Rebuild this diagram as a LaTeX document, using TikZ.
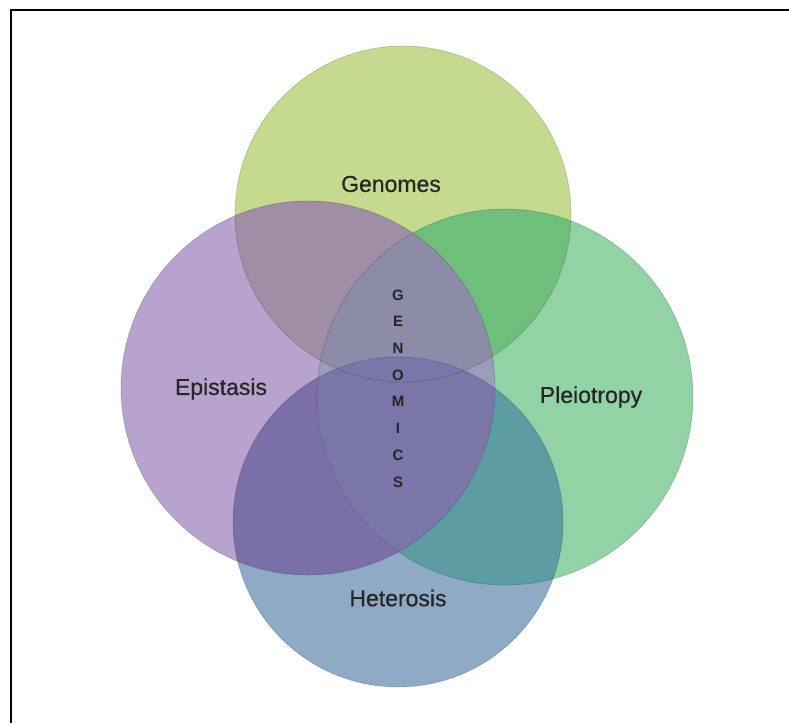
\documentclass[tikz,border=0pt]{standalone}
\usepackage{fontspec}
\setmainfont{Liberation Sans}
\newfontfamily\lblfont[FakeBold=0.6]{Liberation Sans}
\begin{document}
\begin{tikzpicture}[x=1pt,y=-1pt,
  rim/.style={draw=black,draw opacity=0.14,line width=0.9pt},
  setlabel/.style={font=\lblfont\fontsize{23}{25}\selectfont,text=black!85},
  letter/.style={font=\bfseries\fontsize{15}{16}\selectfont,text=black!85,inner sep=0pt}]
\definecolor{cG}{HTML}{C6DA8F}
\definecolor{cE}{HTML}{B8A3CE}
\definecolor{cP}{HTML}{92D3A6}
\definecolor{cH}{HTML}{8EAAC4}
\definecolor{cGE}{HTML}{A08DA6}
\definecolor{cGP}{HTML}{6EBF7C}
\definecolor{cEP}{HTML}{9A9CBA}
\definecolor{cEH}{HTML}{7B6FA8}
\definecolor{cPH}{HTML}{5C9DA3}
\definecolor{cGEP}{HTML}{8C8BA8}
\definecolor{cEPH}{HTML}{7A76A8}
\useasboundingbox (0,0) rectangle (789,723);
\fill[white] (0,0) rectangle (789,723);

% circle centres
\coordinate (G) at (403,214);
\coordinate (E) at (308,388);
\coordinate (P) at (505,397);
\coordinate (H) at (398,522);
\def\rG{168}\def\rE{187}\def\rP{188}\def\rH{165}

% single sets
\fill[cG] (G) circle[radius=\rG];
\fill[cE] (E) circle[radius=\rE];
\fill[cP] (P) circle[radius=\rP];
\fill[cH] (H) circle[radius=\rH];

% pairwise overlaps
\begin{scope}\clip (G) circle[radius=\rG]; \fill[cGE] (E) circle[radius=\rE]; \end{scope}
\begin{scope}\clip (G) circle[radius=\rG]; \fill[cGP] (P) circle[radius=\rP]; \end{scope}
\begin{scope}\clip (E) circle[radius=\rE]; \fill[cEH] (H) circle[radius=\rH]; \end{scope}
\begin{scope}\clip (P) circle[radius=\rP]; \fill[cPH] (H) circle[radius=\rH]; \end{scope}
\begin{scope}\clip (E) circle[radius=\rE]; \fill[cEP] (P) circle[radius=\rP]; \end{scope}

% central lens split by the top and bottom sets
\begin{scope}\clip (E) circle[radius=\rE]; \clip (P) circle[radius=\rP];
  \fill[cGEP] (G) circle[radius=\rG];
  \fill[cEPH] (H) circle[radius=\rH];
\end{scope}

% soft rims
\draw[rim] (G) circle[radius=\rG];
\draw[rim] (E) circle[radius=\rE];
\draw[rim] (P) circle[radius=\rP];
\draw[rim] (H) circle[radius=\rH];

% labels
\node[setlabel] (lG) at (391,184) {Genomes};
\node[setlabel] (lE) at (221,389) {Epistasis};
\node[setlabel] (lP) at (591,397) {Pleiotropy};
\node[setlabel] (lH) at (398,598) {Heterosis};

% vertical word in the centre
\foreach \ch [count=\i] in {G,E,N,O,M,I,C,S}
  \node[letter] (c\i) at (398,{295+26.7*(\i-1)}) {\ch};

% frame
\draw[black,line width=1.3pt] (11,723) -- (11,10) -- (789,10);
\end{tikzpicture}
\end{document}
